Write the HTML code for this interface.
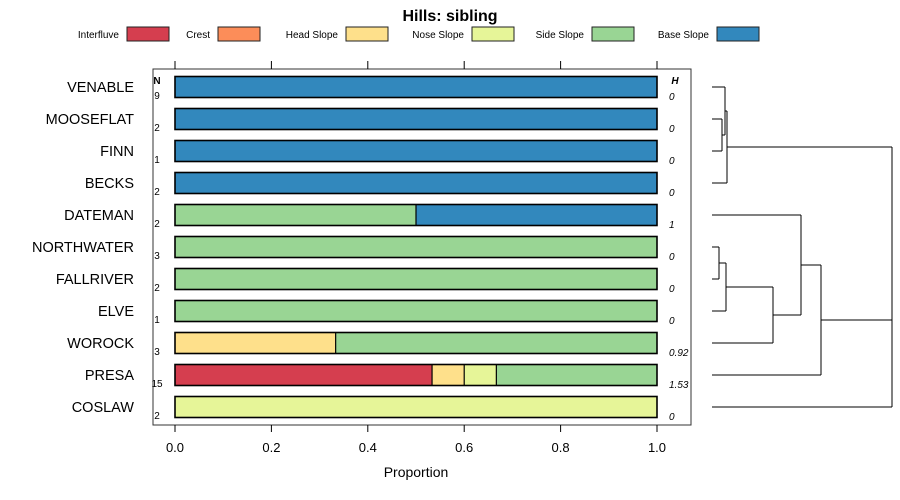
<!DOCTYPE html>
<html><head><meta charset="utf-8">
<style>
body{margin:0;background:#fff;}
svg{display:block;font-family:"Liberation Sans",Arial,sans-serif;}
</style></head>
<body>
<svg id="chart" width="900" height="500"></svg>
<script>
const categories=["VENABLE","MOOSEFLAT","FINN","BECKS","DATEMAN","NORTHWATER","FALLRIVER","ELVE","WOROCK","PRESA","COSLAW"];
const seriesNames=["Interfluve","Crest","Head Slope","Nose Slope","Side Slope","Base Slope"];
const interfluve=[0,0,0,0,0,0,0,0,0,0.5333,0];
const crest=[0,0,0,0,0,0,0,0,0,0,0];
const headSlope=[0,0,0,0,0,0,0,0,0.3333,0.0667,0];
const noseSlope=[0,0,0,0,0,0,0,0,0,0.0667,1];
const sideSlope=[0,0,0,0,0.5,1,1,1,0.6667,0.3333,0];
const baseSlope=[1,1,1,1,0.5,0,0,0,0,0,0];
const nValues=["9","2","1","2","2","3","2","1","3","15","2"];
const hValues=["0","0","0","0","1","0","0","0","0.92","1.53","0"];
const xTicks=[0,0.2,0.4,0.6,0.8,1.0];
const xTickLabels=["0.0","0.2","0.4","0.6","0.8","1.0"];
const colors=["#D53E4F","#FC8D59","#FEE08B","#E6F598","#99D594","#3288BD"];
const series=[interfluve,crest,headSlope,noseSlope,sideSlope,baseSlope];

const svg=document.getElementById('chart');
const NS="http://www.w3.org/2000/svg";
function mk(tag,attrs,parent){const e=document.createElementNS(NS,tag);for(const k in attrs)e.setAttribute(k,attrs[k]);(parent||svg).appendChild(e);return e;}
const x=v=>175+v*482;
const y=i=>87+i*32;

let t=mk('text',{x:450,y:21,'text-anchor':'middle','font-size':16,'font-weight':'bold'});t.textContent="Hills: sibling";



const legBoxX=[127,218,346,472,592,717];
seriesNames.forEach((s,i)=>{
  const g=mk('g',{});
  
  
  const lt=mk('text',{x:legBoxX[i]-8,y:38,'text-anchor':'end','font-size':10},g);lt.textContent=s;
  mk('rect',{x:legBoxX[i],y:27,width:42,height:14,fill:colors[i],stroke:'#222','stroke-width':1},g);
});

const panel=mk('rect',{x:153,y:69,width:538,height:356,fill:'none',stroke:'#333','stroke-width':1});



xTicks.forEach((v,i)=>{
  mk('line',{x1:x(v),x2:x(v),y1:61,y2:69,stroke:'#000'});
  mk('line',{x1:x(v),x2:x(v),y1:425,y2:432,stroke:'#000'});
  const tl=mk('text',{x:x(v),y:452,'text-anchor':'middle','font-size':13});tl.textContent=xTickLabels[i];
  
  
});
const xt=mk('text',{x:416,y:477,'text-anchor':'middle','font-size':14});xt.textContent="Proportion";



let nh=mk('text',{x:157,y:84,'text-anchor':'middle','font-size':10,'font-weight':'bold'});nh.textContent="N";
let hh=mk('text',{x:675,y:84,'text-anchor':'middle','font-size':10,'font-weight':'bold','font-style':'italic'});hh.textContent="H";

categories.forEach((c,i)=>{
  const lab=mk('text',{x:134,y:y(i)+5,'text-anchor':'end','font-size':14.5});lab.textContent=c;
  
  
  const nt=mk('text',{x:157,y:y(i)+12,'text-anchor':'middle','font-size':10});nt.textContent=nValues[i];
  const ht=mk('text',{x:669,y:y(i)+13,'font-size':10,'font-style':'italic'});ht.textContent=hValues[i];
  let cum=0;
  series.forEach((s,k)=>{
    const v=s[i];
    if(v>0){
      const r=mk('rect',{x:x(cum),y:y(i)-10.5,width:x(cum+v)-x(cum),height:21,fill:colors[k],stroke:'none'});
      
      
      if(cum>0) mk('line',{x1:x(cum),x2:x(cum),y1:y(i)-10.5,y2:y(i)+10.5,stroke:'#000','stroke-width':1.2});
    }
    cum+=v;
  });
  mk('rect',{x:x(0),y:y(i)-10.5,width:x(1)-x(0),height:21,fill:'none',stroke:'#000','stroke-width':1.6});
});

const dg=mk('g',{stroke:'#000','stroke-width':1,fill:'none'});


const segs=[
 [712,y(0),725,y(0)],[712,y(1),722,y(1)],[712,y(2),722,y(2)],[722,y(1),722,y(2)],
 [722,135,725,135],[725,y(0),725,135],[725,111,727,111],[712,y(3),727,y(3)],[727,111,727,y(3)],
 [727,147,892,147],
 [712,y(4),801,y(4)],[712,y(5),719,y(5)],[712,y(6),719,y(6)],[719,y(5),719,y(6)],
 [719,263,726,263],[712,y(7),726,y(7)],[726,263,726,y(7)],[726,287,773,287],
 [712,y(8),773,y(8)],[773,287,773,y(8)],[773,315,801,315],[801,y(4),801,315],
 [801,265,821,265],[712,y(9),821,y(9)],[821,265,821,y(9)],[821,320,892,320],
 [712,y(10),892,y(10)],[892,147,892,y(10)]
];
segs.forEach(s=>mk('line',{x1:s[0],y1:s[1],x2:s[2],y2:s[3]},dg));
</script>
</body></html>
